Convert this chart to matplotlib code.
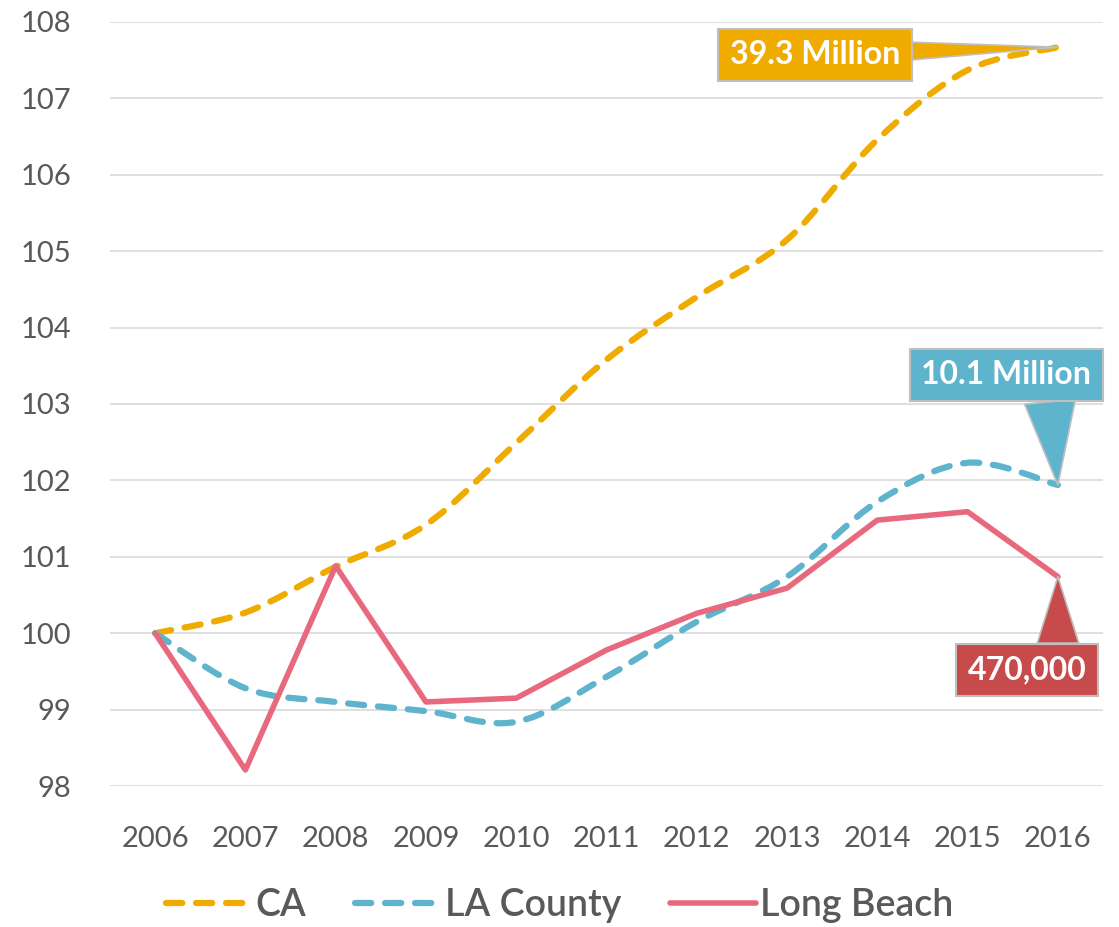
import matplotlib
matplotlib.use('Agg')
import matplotlib.pyplot as plt
from matplotlib.path import Path
from matplotlib.patches import PathPatch
from matplotlib.lines import Line2D
import numpy as np

plt.rcParams['font.family'] = ['Lato', 'DejaVu Sans']

# ------------------------------ DATA ------------------------------
years = ['2006', '2007', '2008', '2009', '2010', '2011', '2012', '2013', '2014', '2015', '2016']
ca = [100.0, 100.27, 100.87, 101.42, 102.49, 103.58, 104.40, 105.15, 106.46, 107.37, 107.67]
la_county = [100.0, 99.28, 99.10, 98.98, 98.84, 99.43, 100.15, 100.74, 101.72, 102.23, 101.94]
long_beach = [100.0, 98.21, 100.88, 99.10, 99.15, 99.78, 100.26, 100.59, 101.48, 101.59, 100.74]

callout_labels = ['39.3 Million', '10.1 Million', '470,000']

ORANGE = '#F0AB00'
BLUE = '#5EB4CC'
RED = '#E8697D'
RED_BOX = '#C84B4B'
GREY_TXT = '#595959'


def smooth_path(x, y):
    # Excel-like smoothed line: cubic bezier through each point
    pts = np.column_stack([x, y]).astype(float)
    n = len(pts)
    verts = [pts[0]]
    codes = [Path.MOVETO]
    for i in range(n - 1):
        p0 = pts[i - 1] if i > 0 else pts[i]
        p1 = pts[i]
        p2 = pts[i + 1]
        p3 = pts[i + 2] if i + 2 < n else pts[i + 1]
        c1 = p1 + (p2 - p0) / 6.0
        c2 = p2 - (p3 - p1) / 6.0
        verts += [c1, c2, p2]
        codes += [Path.CURVE4] * 3
    return Path(verts, codes)


fig = plt.figure(figsize=(11.19, 9.27), dpi=100)
ax = fig.add_axes([0.0983, 0.1521, 0.8874, 0.8242])

x = np.arange(len(years))
dash = (0, (2.6, 2.2))

for vals, col in [(ca, ORANGE), (la_county, BLUE)]:
    patch = PathPatch(smooth_path(x, vals), fill=False, edgecolor=col, lw=4.5,
                      linestyle=dash, capstyle='round', joinstyle='round', zorder=3)
    ax.add_patch(patch)

ax.plot(x, long_beach, color=RED, lw=4, solid_capstyle='round', solid_joinstyle='round', zorder=4)

ax.set_xlim(-0.5, len(years) - 0.5)
ax.set_ylim(98, 108)
ax.set_yticks(np.arange(98, 109, 1))
ax.set_xticks(x)
ax.set_xticklabels(years)
ax.grid(axis='y', color='#D9D9D9', lw=1.2)
ax.set_axisbelow(True)
for s in ax.spines.values():
    s.set_visible(False)
ax.tick_params(length=0, labelsize=21, labelcolor=GREY_TXT)
ax.tick_params(axis='x', pad=29)
ax.tick_params(axis='y', pad=28)

# callouts: (text, point, box centre, colour, where the pointer leaves the box, tail width)
callouts = [
    (callout_labels[0], (10, ca[-1]), (7.31, 107.57), ORANGE, (1.0, 0.62), 0.55),
    (callout_labels[1], (10, la_county[-1]), (9.43, 103.38), BLUE, (0.75, 0.0), 1.6),
    (callout_labels[2], (10, long_beach[-1]), (9.66, 99.52), RED_BOX, (0.76, 1.0), 1.3),
]
for txt, xy, xytext, col, rel, tw in callouts:
    ax.annotate(txt, xy=xy, xytext=xytext, ha='center', va='center',
                fontsize=23, fontweight='bold', color='white', zorder=6,
                bbox=dict(boxstyle='square,pad=0.36', fc=col, ec='#BFBFBF', lw=1.5),
                arrowprops=dict(arrowstyle=f'wedge,tail_width={tw},shrink_factor=0.5',
                                fc=col, ec='#BFBFBF', lw=1.2, relpos=rel,
                                shrinkA=0, shrinkB=0),
                annotation_clip=False)

handles = [
    Line2D([], [], color=ORANGE, lw=4.5, linestyle=dash, dash_capstyle='round'),
    Line2D([], [], color=BLUE, lw=4.5, linestyle=dash, dash_capstyle='round'),
    Line2D([], [], color=RED, lw=4, solid_capstyle='round'),
]
fig.legend(handles, ['CA', 'LA County', 'Long Beach'], loc='center', bbox_to_anchor=(0.5, 0.023),
           ncol=3, frameon=False, fontsize=27, labelcolor=GREY_TXT, handlelength=2.3,
           handletextpad=0.1, columnspacing=1.3, prop={'size': 27, 'weight': 'semibold'})

fig.savefig('out.png', dpi=100)
